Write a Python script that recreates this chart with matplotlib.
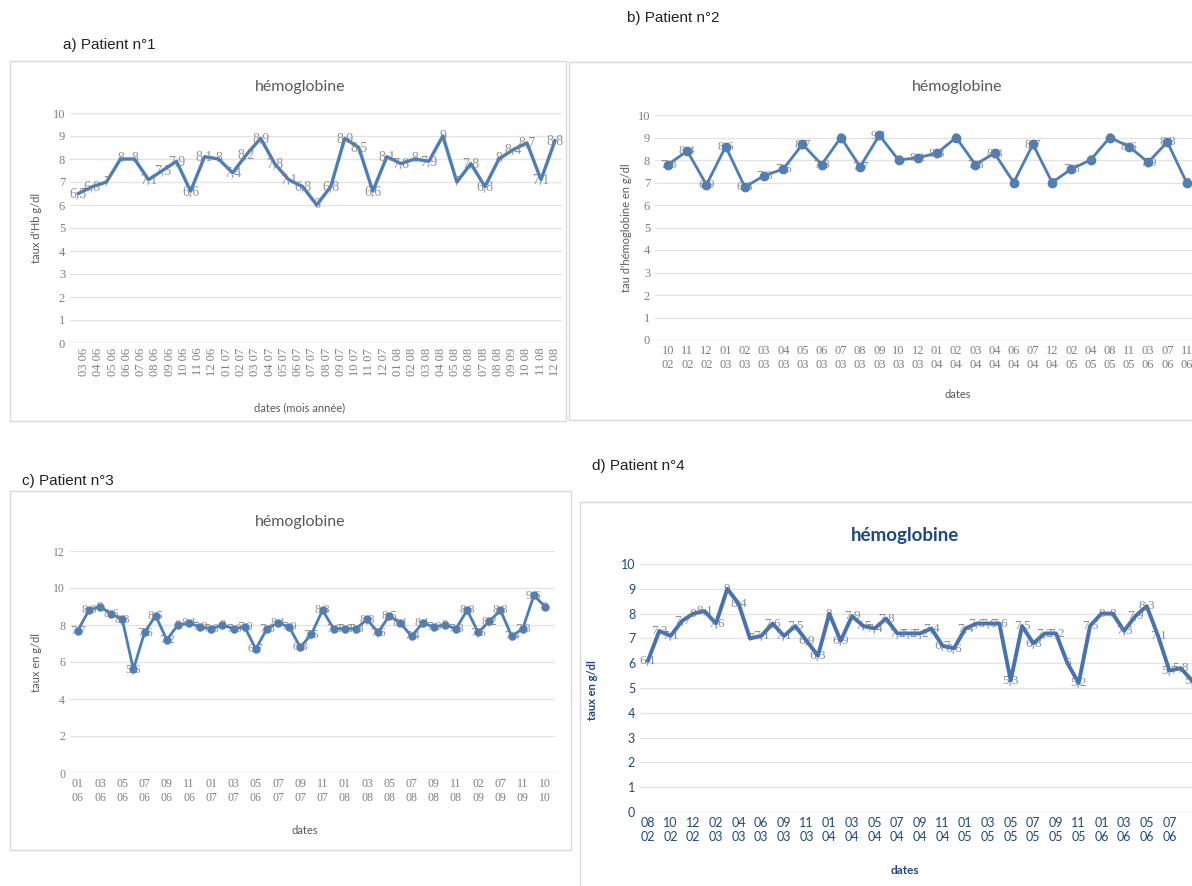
import numpy as np
import matplotlib.pyplot as plt
from matplotlib.patches import Rectangle

W, H = 1192, 886

# patient 1
a_dates = ['03 06', '04 06', '05 06', '06 06', '07 06', '08 06', '09 06', '10 06', '11 06', '12 06',
           '01 07', '02 07', '03 07', '04 07', '05 07', '06 07', '07 07', '08 07', '09 07', '10 07',
           '11 07', '12 07', '01 08', '02 08', '03 08', '04 08', '05 08', '06 08', '07 08', '08 08',
           '09 09', '10 08', '11 08', '12 08']
a_hb = [6.5, 6.8, 7, 8, 8, 7.1, 7.5, 7.9, 6.6, 8.1, 8, 7.4, 8.2, 8.9, 7.8, 7.1, 6.8, 6,
        6.8, 8.9, 8.5, 6.6, 8.1, 7.8, 8, 7.9, 9, 7, 7.8, 6.8, 8, 8.4, 8.7, 7.1, 8.8]

# patient 2
b_dates = ['10\n02', '11\n02', '12\n02', '01\n03', '02\n03', '03\n03', '04\n03', '05\n03', '06\n03',
           '07\n03', '08\n03', '09\n03', '10\n03', '12\n03', '01\n04', '02\n04', '03\n04', '04\n04',
           '06\n04', '07\n04', '12\n04', '02\n05', '04\n05', '08\n05', '11\n05', '03\n06', '07\n06',
           '11\n06']
b_hb = [7.8, 8.4, 6.9, 8.6, 6.8, 7.3, 7.6, 8.7, 7.8, 9, 7.7, 9.1, 8, 8.1, 8.3, 9, 7.8, 8.3,
        7, 8.7, 7, 7.6, 8, 9, 8.6, 7.9, 8.8, 7]

# patient 3 (one label every two points)
c_dates = ['01\n06', '03\n06', '05\n06', '07\n06', '09\n06', '11\n06', '01\n07', '03\n07', '05\n06',
           '07\n07', '09\n07', '11\n07', '01\n08', '03\n08', '05\n08', '07\n08', '09\n08', '11\n08',
           '02\n09', '07\n09', '11\n09', '10\n10']
c_hb = [7.7, 8.8, 9, 8.6, 8.3, 5.6, 7.6, 8.5, 7.2, 8, 8.1, 7.9, 7.8, 8, 7.8, 7.9, 6.7, 7.8,
        8.1, 7.9, 6.8, 7.5, 8.8, 7.8, 7.8, 7.8, 8.3, 7.6, 8.5, 8.1, 7.4, 8.1, 7.9, 8, 7.8, 8.8,
        7.6, 8.2, 8.8, 7.4, 7.8, 9.6, 9]

# patient 4 (one label every two points)
d_dates = ['08\n02', '10\n02', '12\n02', '02\n03', '04\n03', '06\n03', '09\n03', '11\n03', '01\n04',
           '03\n04', '05\n04', '07\n04', '09\n04', '11\n04', '01\n05', '03\n05', '05\n05', '07\n05',
           '09\n05', '11\n05', '01\n06', '03\n06', '05\n06', '07\n06']
d_hb = [6.1, 7.3, 7.1, 7.7, 8, 8.1, 7.6, 9, 8.4, 7, 7.1, 7.6, 7.1, 7.5, 6.9, 6.3, 8, 6.9,
        7.9, 7.5, 7.4, 7.8, 7.2, 7.2, 7.2, 7.4, 6.7, 6.6, 7.4, 7.6, 7.6, 7.6, 5.3, 7.5, 6.8,
        7.2, 7.2, 6, 5.2, 7.5, 8, 8, 7.3, 7.9, 8.3, 7.1, 5.7, 5.8, 5.3]

LINE = '#4a7ebb'
GRAY = '#7f7f7f'
NAVY = '#1f497d'

fig = plt.figure(figsize=(W / 100, H / 100), dpi=100)


def px_axes(left, top, right, bottom):
    return fig.add_axes([left / W, 1 - bottom / H, (right - left) / W, (bottom - top) / H])


def txt(x, y, s, **kw):
    fig.text(x / W, 1 - y / H, s, **kw)


def box(x0, y0, x1, y1):
    fig.patches.append(Rectangle((x0 / W, 1 - y1 / H), (x1 - x0) / W, (y1 - y0) / H,
                                 transform=fig.transFigure, fill=False, ec='#d9d9d9', lw=1))


def fr(v):
    return f'{v:g}'.replace('.', ',')


def style(ax, ymax, ystep, tick_color=GRAY, tick_font='Liberation Serif', weight='normal', size=8.5):
    for s in ax.spines.values():
        s.set_visible(False)
    ax.set_ylim(0, ymax)
    ax.set_yticks(np.arange(0, ymax + 0.1, ystep))
    ax.grid(axis='y', color='#e3e3e3', lw=0.9)
    ax.axhline(0, color='#d0d0d0', lw=1)
    ax.set_axisbelow(True)
    ax.tick_params(length=0, colors=tick_color, labelsize=size)
    for lab in ax.get_xticklabels() + ax.get_yticklabels():
        lab.set_family(tick_font)
        lab.set_weight(weight)


def data_labels(ax, x, y, size=9.5, color=GRAY):
    for xi, yi in zip(x, y):
        ax.text(xi, yi, fr(yi), ha='center', va='center', fontsize=size, color=color,
                family='Liberation Serif', alpha=0.85, zorder=5, clip_on=False)


# boxes and panel titles
box(10, 61, 566, 421)
box(569, 62, 1200, 420)
box(10, 491, 571, 850)
box(580, 502, 1200, 900)
txt(63, 45, 'a) Patient n°1', fontsize=11, family='Liberation Sans', va='center', color='#222222')
txt(627, 18, 'b) Patient n°2', fontsize=11, family='Liberation Sans', va='center', color='#222222')
txt(22, 481, 'c) Patient n°3', fontsize=11, family='Liberation Sans', va='center', color='#222222')
txt(592, 466, 'd) Patient n°4', fontsize=11, family='Liberation Sans', va='center', color='#222222')

# a
ax = px_axes(70, 113, 562, 343)
xa = np.arange(len(a_hb))
ax.plot(xa, a_hb, color=LINE, lw=2.4, zorder=3)
data_labels(ax, xa, a_hb, size=10)
ax.set_xlim(-0.6, 34.5)
ax.set_xticks(np.linspace(0.4, 34, len(a_dates)))
ax.set_xticklabels(a_dates, rotation=90)
style(ax, 10, 1, size=9)
txt(300, 87, 'hémoglobine', fontsize=11.5, family='Lato', color='#595959', ha='center', va='center')
txt(37, 228, "taux d'Hb g/dl", fontsize=8, family='Lato', color='#595959', rotation=90, ha='center', va='center')
txt(300, 408, 'dates (mois année)', fontsize=8, family='Lato', color='#595959', ha='center', va='center')

# b
ax = px_axes(655, 115, 1200, 340)
xb = np.arange(len(b_hb))
ax.plot(xb, b_hb, color=LINE, lw=2, marker='o', ms=6, zorder=3)
data_labels(ax, xb, b_hb, size=9.5)
ax.set_xlim(-0.68, 27.7)
ax.set_xticks(xb)
ax.set_xticklabels(b_dates)
style(ax, 10, 1, size=9)
txt(957, 87, 'hémoglobine', fontsize=11.5, family='Lato', color='#595959', ha='center', va='center')
txt(626, 228, "tau d'hémoglobine en g/dl", fontsize=8, family='Lato', color='#595959', rotation=90, ha='center', va='center')
txt(958, 395, 'dates', fontsize=8, family='Lato', color='#595959', ha='center', va='center')

# c
ax = px_axes(70, 551, 555, 773)
xc = np.arange(len(c_hb))
ax.plot(xc, c_hb, color=LINE, lw=2, marker='o', ms=5, zorder=3)
data_labels(ax, xc, c_hb, size=9)
ax.set_xlim(-0.7, 42.9)
ax.set_xticks(np.arange(0, len(c_hb), 2))
ax.set_xticklabels(c_dates)
style(ax, 12, 2, size=8.5)
txt(300, 522, 'hémoglobine', fontsize=11.5, family='Lato', color='#595959', ha='center', va='center')
txt(37, 662, 'taux en g/dl', fontsize=8, family='Lato', color='#595959', rotation=90, ha='center', va='center')
txt(305, 831, 'dates', fontsize=8, family='Lato', color='#595959', ha='center', va='center')

# d
ax = px_axes(640, 564, 1200, 812)
xd = np.arange(len(d_hb))
ax.plot(xd, d_hb, color='#4472b4', lw=2.8, zorder=3)
data_labels(ax, xd, d_hb, size=9.5, color='#6f7a88')
ax.set_xlim(-0.7, 48.7)
ax.set_xticks(np.arange(0, 47, 2))
ax.set_xticklabels(d_dates)
style(ax, 10, 1, tick_color=NAVY, tick_font='Lato', size=9)
txt(905, 535, 'hémoglobine', fontsize=13.5, family='Lato', weight='bold', color=NAVY, ha='center', va='center')
txt(593, 690, 'taux en g/dl', fontsize=8, family='Lato', weight='bold', color=NAVY, rotation=90, ha='center', va='center')
txt(905, 871, 'dates', fontsize=8.5, family='Lato', weight='bold', color=NAVY, ha='center', va='center')

fig.savefig('out.png', dpi=100)
